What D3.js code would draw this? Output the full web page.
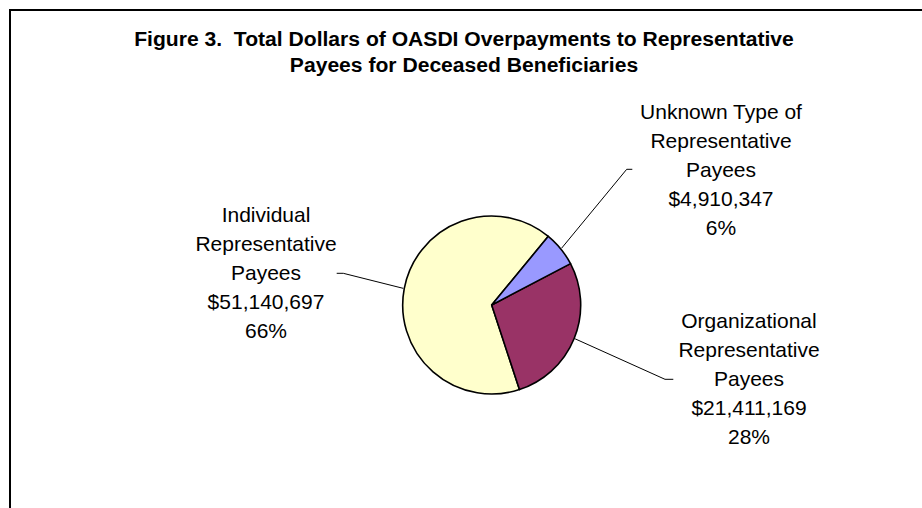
<!DOCTYPE html>
<html>
<head>
<meta charset="utf-8">
<script src="https://cdn.jsdelivr.net/npm/d3@7"></script>
<style>
  html, body { margin: 0; background: #fff; overflow: hidden; }
  svg { display: block; }
  text { font-family: "Liberation Sans", Arial, sans-serif; }
</style>
</head>
<body>
<div id="chart"></div>
<script>
/* Pie chart: OASDI overpayments to representative payees for deceased beneficiaries */

const titleLines = ["Figure 3.  Total Dollars of OASDI Overpayments to Representative",
                    "Payees for Deceased Beneficiaries"];
const categories = ["Individual", "Organizational", "Unknown"];
const labelLines = [["Individual", "Representative", "Payees"],
                    ["Organizational", "Representative", "Payees"],
                    ["Unknown Type of", "Representative", "Payees"]];
const amounts = [51140697, 21411169, 4910347];
const colors = ["#FFFFCC", "#993366", "#9999FF"];

const width = 922,
      height = 508;

// layout of the pie and the label blocks
const cx = 491.7, cy = 305, radius = 89;
const firstAngle = 39.5 * Math.PI / 180; // boundary between Unknown and Individual
const labelPos = [
    { x: 266, y: 221.7, elbow: [343.3, 273.3], end: [336.7, 273.3] },
    { x: 749, y: 328.3, elbow: [665, 379.3], end: [673.3, 379.3] },
    { x: 721, y: 119.3, elbow: [626.7, 169.3], end: [632.3, 169.3] }
];
const lineHeight = 29;

const total = d3.sum(amounts);
const money = d3.format("$,");
const pct = d3.format(".0%");

let svg = d3.select("#chart")
    .append("svg")
    .attr("width", width)
    .attr("height", height);

// frame (runs off the right and bottom edges)
svg.append("rect")
    .attr("x", 10).attr("y", 10)
    .attr("width", 1000).attr("height", 700)
    .attr("fill", "none")
    .attr("stroke", "#000")
    .attr("stroke-width", 2);

// title
svg.append("g")
    .selectAll("text")
    .data(titleLines)
    .join("text")
    .attr("x", 464)
    .attr("y", (d, i) => 46 + i * 25.7)
    .attr("text-anchor", "middle")
    .attr("font-size", 21.1)
    .attr("font-weight", "bold")
    .style("white-space", "pre")
    .text(d => d);

// slices go counter-clockwise from the top-right boundary
let pie = d3.pie()
    .sort(null)
    .startAngle(firstAngle + 2 * Math.PI)
    .endAngle(firstAngle);

let arc = d3.arc()
    .innerRadius(0)
    .outerRadius(radius);

let arcs = pie(amounts);

let g = svg.append("g")
    .attr("transform", `translate(${cx},${cy})`);

g.selectAll("path")
    .data(arcs)
    .join("path")
    .attr("d", arc)
    .attr("fill", (d, i) => colors[i])
    .attr("stroke", "#000")
    .attr("stroke-width", 1.6)
    .attr("stroke-linejoin", "round");

// leader lines from slice middle to the label
svg.append("g")
    .selectAll("polyline")
    .data(arcs)
    .join("polyline")
    .attr("points", (d, i) => {
        const a = (d.startAngle + d.endAngle) / 2;
        const p = [cx + (radius + 1) * Math.sin(a), cy - (radius + 1) * Math.cos(a)];
        return [p, labelPos[i].elbow, labelPos[i].end].map(q => q.join(",")).join(" ");
    })
    .attr("fill", "none")
    .attr("stroke", "#000")
    .attr("stroke-width", 1);

// labels: name, dollars, percent
let label = svg.append("g")
    .selectAll("g")
    .data(arcs)
    .join("g");

label.selectAll("text")
    .data((d, i) => labelLines[i].concat([money(d.data), pct(d.data / total)])
        .map((t, j) => ({ t, j, i })))
    .join("text")
    .attr("x", d => labelPos[d.i].x)
    .attr("y", d => labelPos[d.i].y + d.j * lineHeight)
    .attr("text-anchor", "middle")
    .attr("font-size", 21)
    .attr("fill", "#000")
    .text(d => d.t);
</script>
</body>
</html>
